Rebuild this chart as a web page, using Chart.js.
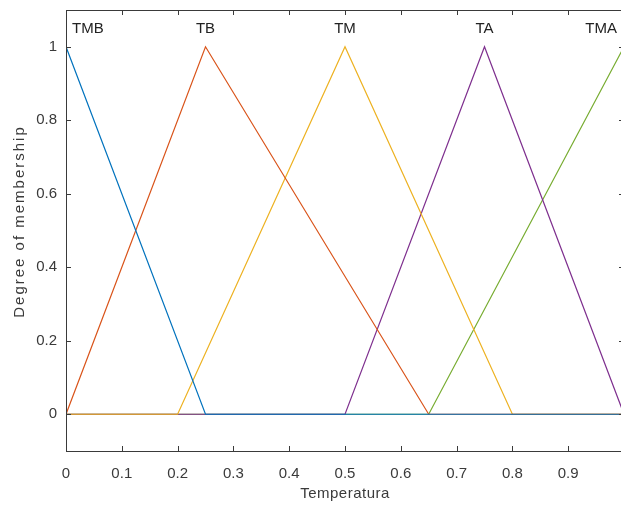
<!DOCTYPE html>
<html>
<head>
<meta charset="utf-8">
<script src="https://cdn.jsdelivr.net/npm/chart.js@4"></script>
<style>
  html, body { margin: 0; padding: 0; background: #fff; overflow: hidden; }
  #wrap { position: absolute; left: 0; top: 0; width: 640px; height: 506px; }
</style>
</head>
<body>
<div id="wrap"><canvas id="mf" width="640" height="506"></canvas></div>
<script>
// Membership functions (x, degree)
var xTMB = [0, 0.25, 1];
var yTMB = [1, 0, 0];
var xTB = [0, 0.25, 0.65, 1];
var yTB = [0, 1, 0, 0];
var xTM = [0, 0.2, 0.5, 0.8, 1];
var yTM = [0, 0, 1, 0, 0];
var xTA = [0, 0.5, 0.75, 1];
var yTA = [0, 0, 1, 0];
var xTMA = [0, 0.65, 1];
var yTMA = [0, 0, 1];

var mfNames = ['TMB', 'TB', 'TM', 'TA', 'TMA'];
var mfPeaks = [0, 0.25, 0.5, 0.75, 1];
var mfColors = ['#0072BD', '#D95319', '#EDB120', '#7E2F8E', '#77AC30'];

var xTickValues = [0, 0.1, 0.2, 0.3, 0.4, 0.5, 0.6, 0.7, 0.8, 0.9, 1];
var xTickLabels = ['0', '0.1', '0.2', '0.3', '0.4', '0.5', '0.6', '0.7', '0.8', '0.9', ''];
var yTickValues = [0, 0.2, 0.4, 0.6, 0.8, 1];
var yTickLabels = ['0', '0.2', '0.4', '0.6', '0.8', '1'];

var xTitle = 'Temperatura';
var yTitle = 'Degree of membership';

var axisColor = '#3a3a3a';
var textFont = "'Liberation Sans', Arial, sans-serif";

function pts(xs, ys) {
    return xs.map(function(x, i) { return { x: x, y: ys[i] }; });
}

var series = [pts(xTMB, yTMB), pts(xTB, yTB), pts(xTM, yTM), pts(xTA, yTA), pts(xTMA, yTMA)];

// Box frame, inward ticks, axis titles and MF names
var matlabAxes = {
    id: 'matlabAxes',
    afterDatasetsDraw: function(chart) {
        var ctx = chart.ctx, a = chart.chartArea;
        var xs = chart.scales.x, ys = chart.scales.y;
        ctx.save();
        ctx.strokeStyle = axisColor;
        ctx.lineWidth = 1;
        ctx.strokeRect(a.left + 0.5, a.top + 0.5, a.right - a.left, a.bottom - a.top);
        ctx.beginPath();
        xTickValues.forEach(function(v) {
            var px = Math.round(xs.getPixelForValue(v)) + 0.5;
            ctx.moveTo(px, a.bottom); ctx.lineTo(px, a.bottom - 5);
            ctx.moveTo(px, a.top); ctx.lineTo(px, a.top + 5);
        });
        yTickValues.forEach(function(v) {
            var py = Math.round(ys.getPixelForValue(v)) + 0.5;
            ctx.moveTo(a.left, py); ctx.lineTo(a.left + 5, py);
            ctx.moveTo(a.right, py); ctx.lineTo(a.right - 5, py);
        });
        ctx.stroke();

        // axis titles (a bit letter-spaced like the original)
        ctx.fillStyle = axisColor;
        ctx.font = '15px ' + textFont;
        ctx.textAlign = 'center';
        ctx.textBaseline = 'middle';
        ctx.letterSpacing = '0.5px';
        ctx.fillText(xTitle, (a.left + a.right) / 2, 494);
        ctx.save();
        ctx.translate(20, (a.top + a.bottom) / 2 - 9);
        ctx.rotate(-Math.PI / 2);
        ctx.letterSpacing = '2px';
        ctx.fillText(yTitle, 0, 0);
        ctx.restore();
        ctx.letterSpacing = '0px';

        ctx.fillStyle = '#222';
        ctx.font = '15px ' + textFont;
        ctx.textBaseline = 'middle';
        ctx.textAlign = 'left';
        var ty = ys.getPixelForValue(1.05);
        mfNames.forEach(function(name, i) {
            var w = ctx.measureText(name).width;
            var cx = xs.getPixelForValue(mfPeaks[i]);
            var left = cx - w / 2;
            left = Math.max(left, a.left + 6);
            left = Math.min(left, a.right - 7 - w);
            ctx.fillText(name, left, ty);
        });
        ctx.restore();
    }
};

new Chart(document.getElementById('mf'), {
    type: 'line',
    data: {
        datasets: series.map(function(d, i) {
            return {
                label: mfNames[i],
                data: d,
                borderColor: mfColors[i],
                backgroundColor: mfColors[i],
                borderWidth: 1.2,
                pointRadius: 0,
                tension: 0,
                fill: false
            };
        })
    },
    options: {
        responsive: false,
        animation: false,
        layout: { padding: { top: 10, right: 16, left: 0, bottom: 0 } },
        plugins: { legend: { display: false }, tooltip: { enabled: false } },
        scales: {
            x: {
                type: 'linear',
                min: 0,
                max: 1,
                grid: { display: false, drawTicks: false },
                border: { display: false },
                afterBuildTicks: function(s) { s.ticks = xTickValues.map(function(v) { return { value: v }; }); },
                afterFit: function(s) { s.height = 55; s.paddingLeft = 0; s.paddingRight = 0; },
                ticks: {
                    padding: 14,
                    color: axisColor,
                    font: { family: textFont, size: 15 },
                    maxRotation: 0,
                    autoSkip: false,
                    callback: function(v) {
                        var i = xTickValues.indexOf(v);
                        return i >= 0 ? xTickLabels[i] : '';
                    }
                }
            },
            y: {
                type: 'linear',
                min: -0.1,
                max: 1.1,
                grid: { display: false, drawTicks: false },
                border: { display: false },
                afterBuildTicks: function(s) { s.ticks = yTickValues.map(function(v) { return { value: v }; }); },
                afterFit: function(s) { s.width = 66; s.paddingTop = 0; s.paddingBottom = 0; },
                ticks: {
                    padding: 9,
                    color: axisColor,
                    font: { family: textFont, size: 15 },
                    autoSkip: false,
                    callback: function(v) {
                        var i = yTickValues.indexOf(v);
                        return i >= 0 ? yTickLabels[i] : '';
                    }
                }
            }
        }
    },
    plugins: [matlabAxes]
});
</script>
</body>
</html>
